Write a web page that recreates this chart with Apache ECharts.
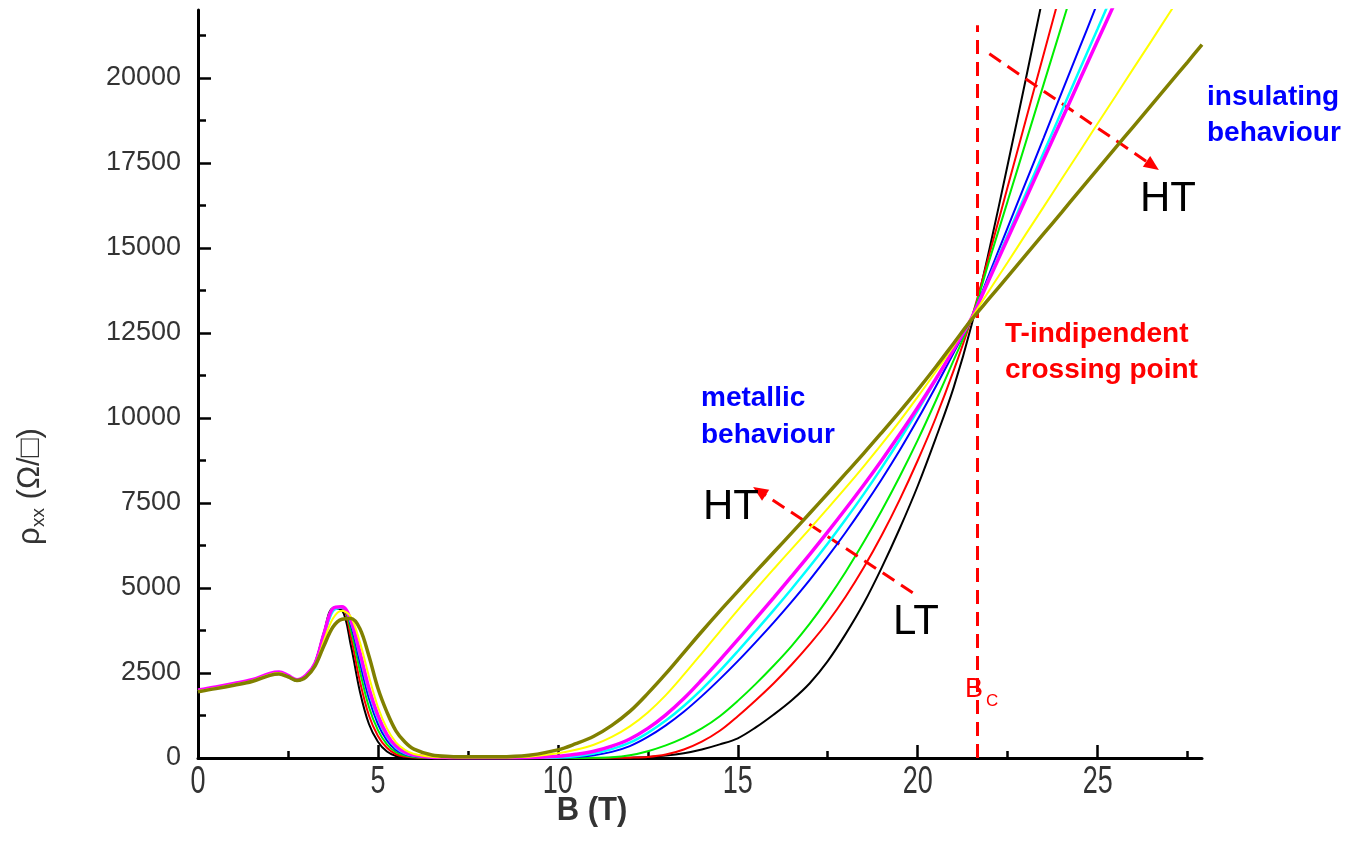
<!DOCTYPE html>
<html><head><meta charset="utf-8">
<script src="https://cdn.jsdelivr.net/npm/echarts@6/dist/echarts.min.js"></script>
<style>html,body{margin:0;padding:0;background:#fff}#c{width:1347px;height:862px}</style>
</head><body><div id="c"></div>
<script>
// Magnetic field values (T)
const B = [0,0.5,1,1.5,2,2.25,2.5,2.75,3,3.25,3.5,3.75,4,4.25,4.5,4.75,5,5.25,5.5,5.75,6,6.5,7,7.5,8,9,10,10.5,11,11.5,12,12.5,13,13.5,14,14.5,15,15.5,16,16.5,17,17.5,18,18.5,19,19.5,20,20.5,21,21.5,22,22.5,23,23.5,24,24.5,25,25.5,26,26.5,27,27.5,27.9];

// rho_xx curves (Ohm/sq), from lowest temperature (black) to highest (olive)
const rhoBlack = [1970,2060,2160,2270,2460,2500,2400,2270,2400,2800,3700,4400,4350,3300,1950,1000,480,190,60,20,5,0,0,0,0,0,0,0,0,0,10,30,70,140,250,400,580,900,1280,1700,2200,2850,3650,4550,5600,6750,8000,9400,10900,12750,15000,17450,19950,22500];
const rhoRed = [1970,2060,2160,2270,2460,2500,2400,2270,2400,2780,3650,4380,4420,3550,2250,1250,650,300,110,40,15,5,0,0,0,0,0,0,0,5,10,30,100,250,480,800,1230,1700,2200,2750,3350,4000,4750,5600,6550,7600,8750,10000,11400,12950,14850,16800,18750,20700,22650];
const rhoGreen = [1970,2060,2160,2270,2460,2500,2400,2270,2400,2790,3680,4420,4450,3750,2550,1500,820,400,170,70,30,10,5,0,0,0,0,0,5,20,80,200,370,590,870,1230,1680,2180,2720,3300,3950,4680,5480,6350,7280,8280,9350,10500,11700,12950,14670,16380,18100,19820,21540,23260];
const rhoBlue = [1970,2060,2160,2270,2460,2500,2400,2270,2400,2770,3620,4350,4450,3900,2800,1750,1000,520,240,110,50,15,5,0,0,0,10,30,80,180,350,620,960,1360,1820,2320,2850,3410,3990,4600,5240,5920,6640,7400,8200,9050,9960,10920,11920,12950,14270,15600,16920,18240,19570,20890,22220];
const rhoCyan = [1970,2060,2160,2270,2460,2500,2400,2270,2400,2760,3600,4320,4430,4000,3000,1950,1150,620,300,140,70,20,8,3,0,0,15,50,130,260,450,740,1100,1530,2020,2560,3140,3740,4350,4980,5630,6310,7020,7760,8540,9360,10220,11120,12030,12950,14160,15380,16590,17810,19020,20240,21450,22670];
const rhoMagenta = [2000,2090,2190,2300,2490,2530,2430,2300,2430,2780,3650,4400,4450,4050,3100,2050,1250,690,350,170,85,25,10,5,5,10,50,110,200,350,560,870,1270,1750,2300,2880,3480,4100,4720,5350,5990,6650,7330,8030,8760,9520,10310,11140,12020,12950,14110,15280,16440,17610,18770,19940,21100,22260];
const rhoYellow = [1970,2060,2160,2270,2460,2500,2400,2270,2400,2720,3450,4100,4330,4150,3400,2400,1500,870,460,240,120,40,20,15,15,30,140,240,390,620,930,1340,1850,2450,3080,3720,4350,4960,5560,6150,6740,7340,7950,8580,9230,9910,10620,11360,12130,12950,13770,14580,15400,16210,17030,17840,18660,19470,20290,21100,21920,22730];
const rhoOlive = [1950,2040,2140,2250,2430,2470,2390,2280,2380,2700,3300,3850,4080,4100,3800,3000,2050,1350,800,470,260,90,45,35,35,60,240,420,640,960,1370,1900,2480,3100,3720,4320,4900,5480,6050,6620,7200,7780,8370,8960,9570,10190,10830,11500,12200,12900,13530,14160,14790,15420,16050,16690,17320,17950,18580,19210,19840,20470,20980];

const curveValues = [rhoBlack, rhoRed, rhoGreen, rhoBlue, rhoCyan, rhoMagenta, rhoYellow, rhoOlive];
const curveNames = ['T1','T2','T3','T4','T5','T6','T7','T8'];
const curveColors = ['#000000','#ff0000','#00ee00','#0000ff','#00ffff','#ff00ff','#ffff00','#808000'];
const curveWidths = [2,2,2,2,2.5,3.5,2,3.5];

// Axis ticks
const xTicks = [0,5,10,15,20,25];
const xMinorTicks = [2.5,7.5,12.5,17.5,22.5,27.5];
const yTicks = [0,2500,5000,7500,10000,12500,15000,17500,20000];
const yMinorTicks = [1250,3750,6250,8750,11250,13750,16250,18750,21250];

// Annotation lines (data coordinates)
const bcLine = [[21.65,0],[21.65,21550]];
const arrowLowField = [[19.86,4860],[15.6,7850]];
const arrowHighField = [[21.99,20710],[26.53,17420]];

const FONT = '"Liberation Sans", Arial, sans-serif';
const chart = echarts.init(document.getElementById('c'));

const series = curveValues.map((vals, k) => ({
  name: curveNames[k],
  type: 'line',
  xAxisIndex: 0, yAxisIndex: 0,
  data: vals.map((v, i) => [B[i], v]),
  showSymbol: false,
  smooth: 0.35,
  clip: true,
  lineStyle: { color: curveColors[k], width: curveWidths[k] },
  itemStyle: { color: curveColors[k] },
  z: 2 + k
}));

const dashed = { color: '#ff0000', width: 3, type: [14, 8] };
series[0].markLine = {
  silent: true,
  animation: false,
  label: { show: false },
  lineStyle: dashed,
  symbolSize: [13, 15],
  data: [
    [{ coord: bcLine[0], symbol: 'none' }, { coord: bcLine[1], symbol: 'none' }],
    [{ coord: arrowLowField[0], symbol: 'none' }, { coord: arrowLowField[1], symbol: 'triangle' }],
    [{ coord: arrowHighField[0], symbol: 'none' }, { coord: arrowHighField[1], symbol: 'triangle' }]
  ]
};

const grid = { left: 198, right: 145, top: 10, bottom: 104 };
chart.setOption({
  animation: false,
  backgroundColor: '#ffffff',
  grid: grid,
  xAxis: [
    { type: 'value', min: 0, max: 27.9, interval: 5, position: 'bottom',
      axisLine: { show: true, onZero: false, lineStyle: { color: '#000', width: 3 } },
      axisTick: { show: true, inside: true, length: 13, lineStyle: { color: '#000', width: 2.5 }, customValues: xTicks },
      axisLabel: { show: false }, splitLine: { show: false } },
    { type: 'value', min: 0, max: 27.9, interval: 2.5, position: 'bottom', offset: 0,
      axisLine: { show: false },
      axisTick: { show: true, inside: true, length: 7, lineStyle: { color: '#000', width: 2.5 }, customValues: xMinorTicks },
      axisLabel: { show: false }, splitLine: { show: false } }
  ],
  yAxis: [
    { type: 'value', min: 0, max: 22000, interval: 2500, position: 'left',
      axisLine: { show: true, onZero: false, lineStyle: { color: '#000', width: 3 } },
      axisTick: { show: true, inside: true, length: 13, lineStyle: { color: '#000', width: 2.5 }, customValues: yTicks },
      axisLabel: { show: true, customValues: yTicks, margin: 17, fontSize: 27, color: '#333', fontFamily: FONT,
        formatter: v => String(v) },
      splitLine: { show: false } },
    { type: 'value', min: 0, max: 22000, interval: 1250, position: 'left', offset: 0,
      axisLine: { show: false },
      axisTick: { show: true, inside: true, length: 8, lineStyle: { color: '#000', width: 2.5 }, customValues: yMinorTicks },
      axisLabel: { show: false }, splitLine: { show: false } }
  ],
  series: series
});

function txt(text, x, y, size, color, bold, extra) {
  const font = (bold ? 'bold ' : '') + size + 'px ' + FONT;
  return Object.assign({
    type: 'text', x: x, y: y, silent: true, z: 50,
    style: { text: text, fill: color, font: font, align: 'left', verticalAlign: 'middle', textAlign: 'left', textVerticalAlign: 'middle' }
  }, extra || {});
}

const graphics = [];
// x tick labels (taller glyphs as in the reference), positioned by the axis scale
xTicks.forEach(v => {
  const px = chart.convertToPixel({ xAxisIndex: 0 }, v);
  const t = txt(String(v), px, 782, 27, '#333', false, { scaleY: 1.45 });
  t.style.align = 'center'; t.style.textAlign = 'center';
  graphics.push(t);
});
// axis titles
const xt = txt('B (T)', 592, 811, 31, '#333', true, { scaleY: 1.1 });
xt.style.align = 'center'; xt.style.textAlign = 'center';
graphics.push(xt);
graphics.push({
  type: 'group', x: 30, y: 545, rotation: Math.PI / 2, silent: true,
  children: [
    txt('ρ', 0, 0, 31, '#333', false),
    txt('xx', 18, 9, 19, '#333', false),
    txt(' (Ω/□)', 37, 0, 31, '#333', false)
  ]
});
// annotations
graphics.push(txt('metallic', 701, 398.5, 28, '#0000ff', true));
graphics.push(txt('behaviour', 701, 435.5, 28, '#0000ff', true));
graphics.push(txt('insulating', 1207, 97, 28, '#0000ff', true));
graphics.push(txt('behaviour', 1207, 133.5, 28, '#0000ff', true));
graphics.push(txt('T-indipendent', 1005, 334, 28, '#ff0000', true));
graphics.push(txt('crossing point', 1005, 370.5, 28, '#ff0000', true));
graphics.push(txt('HT', 703, 507, 42, '#000', false));
graphics.push(txt('LT', 893, 622, 42, '#000', false));
graphics.push(txt('HT', 1140, 199, 42, '#000', false));
graphics.push(txt('B', 965, 690, 27, '#ff0000', false));
graphics.push(txt('C', 986, 701, 17, '#ff0000', false));

chart.setOption({ graphic: { elements: graphics } });
</script></body></html>
